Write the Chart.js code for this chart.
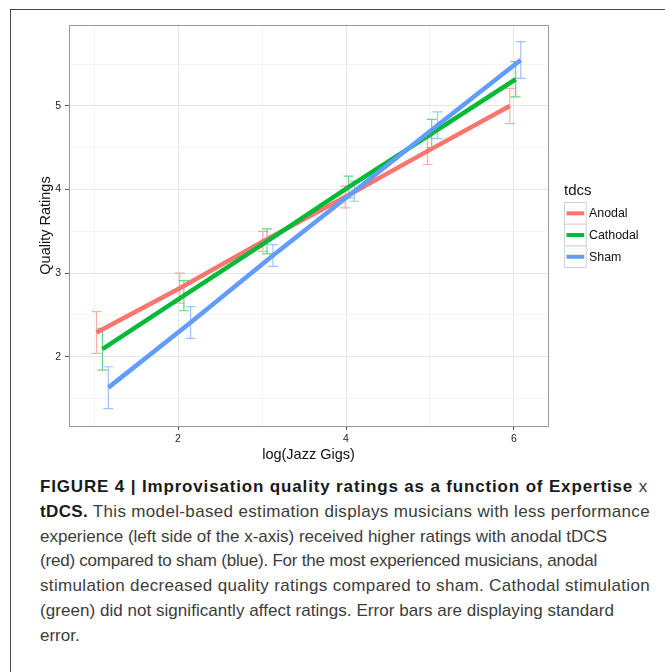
<!DOCTYPE html>
<html>
<head>
<meta charset="utf-8">
<script src="https://cdn.jsdelivr.net/npm/chart.js@4.4.1/dist/chart.umd.min.js"></script>
<style>
  body { margin: 0; background: #fff; }
  #frame { position: absolute; left: 10px; top: 9px; width: 700px; height: 700px; border: 1.5px solid #4a4a4a; }
  #wrap { position: absolute; left: 0; top: 0; width: 665px; height: 467px; }
  #caption {
    position: absolute; left: 40px; top: 475px;
    font-family: "Liberation Sans", Arial, sans-serif; font-size: 17px;
    line-height: 24.8px; color: #3c3c3c; white-space: nowrap;
  }
  #caption b { color: #1a1a1a; }
</style>
</head>
<body>
<div id="frame"></div>
<div id="wrap"><canvas id="gigsChart"></canvas></div>
<div id="caption">
  <div data-w="608"><span><b>FIGURE 4 | Improvisation quality ratings as a function of Expertise</b> x</span></div>
  <div data-w="610"><span><b>tDCS.</b> This model-based estimation displays musicians with less performance</span></div>
  <div data-w="567"><span>experience (left side of the x-axis) received higher ratings with anodal tDCS</span></div>
  <div data-w="557"><span>(red) compared to sham (blue). For the most experienced musicians, anodal</span></div>
  <div data-w="610"><span>stimulation decreased quality ratings compared to sham. Cathodal stimulation</span></div>
  <div data-w="574"><span>(green) did not significantly affect ratings. Error bars are displaying standard</span></div>
  <div><span>error.</span></div>
</div>
<script>
// groups and colours (ggplot defaults)
const groups = ['Anodal', 'Cathodal', 'Sham']
const group_colors = ['#F8766D', '#00BA38', '#619CFF']
const bar_colors = ['rgba(248,118,109,0.6)', 'rgba(0,186,56,0.6)', 'rgba(97,156,255,0.6)']

// model estimates per bin (x is dodged a little per group)
const anodal_x = [1.03, 2.02, 3.01, 3.99, 4.97, 5.95]
const anodal_y = [2.29, 2.82, 3.38, 3.91, 4.46, 5.00]
const anodal_se = [0.25, 0.18, 0.12, 0.13, 0.16, 0.21]

const cathodal_x = [1.10, 2.07, 3.06, 4.03, 5.02, 6.02]
const cathodal_y = [2.09, 2.73, 3.38, 4.03, 4.67, 5.32]
const cathodal_se = [0.25, 0.18, 0.15, 0.13, 0.17, 0.21]

const sham_x = [1.17, 2.15, 3.13, 4.10, 5.09, 6.08]
const sham_y = [1.63, 2.41, 3.21, 3.98, 4.77, 5.55]
const sham_se = [0.25, 0.19, 0.13, 0.12, 0.16, 0.22]

// axes
const x_grid = [1, 2, 3, 4, 5, 6]
const x_labels = [2, 4, 6]
const y_grid = [1.5, 2, 2.5, 3, 3.5, 4, 4.5, 5, 5.5]
const y_labels = [2, 3, 4, 5]

const all_x = [anodal_x, cathodal_x, sham_x]
const all_y = [anodal_y, cathodal_y, sham_y]
const all_se = [anodal_se, cathodal_se, sham_se]

const FONT = '"Liberation Sans", Arial, sans-serif'

function points(xs, ys) {
    return xs.map((x, i) => ({ x: x, y: ys[i] }))
}

// stretch each caption line a little so it ends where the printed one does
document.querySelectorAll('#caption div[data-w]').forEach((line) => {
    const span = line.querySelector('span')
    const chars = span.textContent.length
    const diff = Number(line.dataset.w) - span.getBoundingClientRect().width
    line.style.letterSpacing = (diff / chars) + 'px'
})

////////////////
// Error bars //
////////////////

const errorBars = {
    id: 'errorBars',
    beforeDatasetsDraw(chart) {
        const ctx = chart.ctx
        const xs = chart.scales.x
        const ys = chart.scales.y
        ctx.save()
        ctx.lineWidth = 1.2
        for (let g = 0; g < groups.length; g++) {
            ctx.strokeStyle = bar_colors[g]
            for (let i = 0; i < all_x[g].length; i++) {
                const px = xs.getPixelForValue(all_x[g][i])
                const top = ys.getPixelForValue(all_y[g][i] + all_se[g][i])
                const bot = ys.getPixelForValue(all_y[g][i] - all_se[g][i])
                ctx.beginPath()
                ctx.moveTo(px, top); ctx.lineTo(px, bot)
                ctx.moveTo(px - 5, top); ctx.lineTo(px + 5, top)
                ctx.moveTo(px - 5, bot); ctx.lineTo(px + 5, bot)
                ctx.stroke()
            }
        }
        ctx.restore()
    }
}

//////////////////////////
// Panel box and legend //
//////////////////////////

const panelAndLegend = {
    id: 'panelAndLegend',
    afterDraw(chart) {
        const ctx = chart.ctx
        const a = chart.chartArea
        ctx.save()
        ctx.strokeStyle = '#9a9a9a'
        ctx.lineWidth = 1
        ctx.strokeRect(a.left + 0.5, a.top + 0.5, a.right - a.left, a.bottom - a.top)

        // legend to the right of the panel
        const lx = 564, ly = 202, key = 21.7
        ctx.fillStyle = '#111'
        ctx.font = '15px ' + FONT
        ctx.textBaseline = 'alphabetic'
        ctx.fillText('tdcs', lx, ly - 7)
        ctx.font = '12.4px ' + FONT
        ctx.textBaseline = 'middle'
        for (let g = 0; g < groups.length; g++) {
            const by = ly + g * key
            ctx.fillStyle = '#fff'
            ctx.fillRect(lx, by, key, key)
            ctx.strokeStyle = '#d0d0d0'
            ctx.lineWidth = 1
            ctx.strokeRect(lx + 0.5, by + 0.5, key, key)
            ctx.strokeStyle = group_colors[g]
            ctx.lineWidth = 4
            ctx.beginPath()
            ctx.moveTo(lx + 2.5, by + key / 2 + 0.5)
            ctx.lineTo(lx + key - 1.5, by + key / 2 + 0.5)
            ctx.stroke()
            ctx.fillStyle = '#111'
            ctx.fillText(groups[g], lx + 25, by + key / 2 + 1)
        }
        ctx.restore()
    }
}

//////////////////
// Create Chart //
//////////////////

const gigs_chart = new Chart('gigsChart', {
    type: 'line',
    data: {
        datasets: groups.map((name, g) => ({
            label: name,
            data: points(all_x[g], all_y[g]),
            borderColor: group_colors[g],
            borderWidth: 4.5,
            pointRadius: 0,
            order: groups.length - g
        }))
    },
    options: {
        responsive: true,
        maintainAspectRatio: false,
        animation: false,
        layout: { padding: { top: 25, right: 117, left: 30, bottom: 0 } },
        plugins: { legend: { display: false }, tooltip: { enabled: false } },
        scales: {
            x: {
                type: 'linear',
                min: 0.702,
                max: 6.405,
                afterBuildTicks: (scale) => { scale.ticks = x_grid.map(v => ({ value: v })) },
                afterFit: (scale) => { scale.height = 41 },
                ticks: {
                    color: '#222',
                    padding: 3,
                    font: { family: FONT, size: 10.5 },
                    callback: (v) => x_labels.includes(v) ? String(v) : ''
                },
                grid: {
                    color: (c) => x_labels.includes(c.tick.value) ? '#e6e6e6' : '#f4f4f4',
                    tickColor: (c) => x_labels.includes(c.tick.value) ? '#555' : 'rgba(0,0,0,0)',
                    tickLength: 4
                },
                border: { display: false },
                title: {
                    display: true,
                    text: 'log(Jazz Gigs)',
                    color: '#111',
                    font: { family: FONT, size: 14.5 },
                    padding: { top: 0, bottom: 3 }
                }
            },
            y: {
                type: 'linear',
                min: 1.171,
                max: 5.969,
                afterBuildTicks: (scale) => { scale.ticks = y_grid.map(v => ({ value: v })) },
                afterFit: (scale) => { scale.width = 39 },
                ticks: {
                    color: '#222',
                    padding: 4,
                    font: { family: FONT, size: 10.5 },
                    callback: (v) => y_labels.includes(v) ? String(v) : ''
                },
                grid: {
                    color: (c) => y_labels.includes(c.tick.value) ? '#e6e6e6' : '#f4f4f4',
                    tickColor: (c) => y_labels.includes(c.tick.value) ? '#555' : 'rgba(0,0,0,0)',
                    tickLength: 4
                },
                border: { display: false },
                title: {
                    display: true,
                    text: 'Quality Ratings',
                    color: '#111',
                    font: { family: FONT, size: 14.5 },
                    padding: { top: 7, bottom: 0 }
                }
            }
        }
    },
    plugins: [errorBars, panelAndLegend]
});
</script>
</body>
</html>
